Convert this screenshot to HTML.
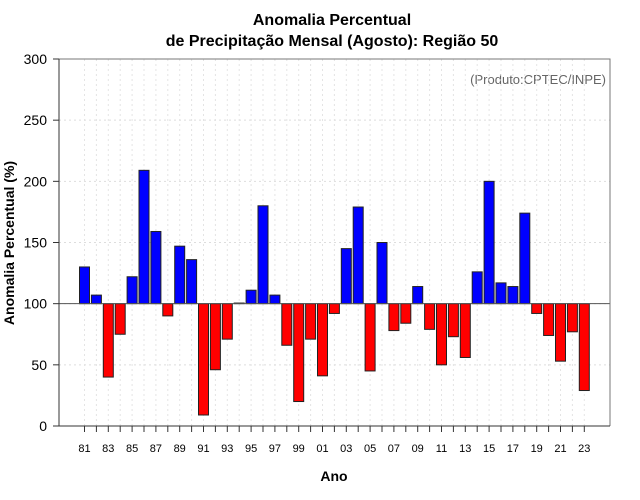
<!DOCTYPE html>
<html><head><meta charset="utf-8"><style>
body{margin:0;background:#fff;}
svg{display:block;font-family:"Liberation Sans",sans-serif;}
</style></head><body>
<svg id="chart" width="640" height="500" xmlns="http://www.w3.org/2000/svg">
<text x="332" y="25" text-anchor="middle" font-size="16" font-weight="bold">Anomalia Percentual</text>
<text x="332" y="46" text-anchor="middle" font-size="16" font-weight="bold">de Precipitação Mensal (Agosto): Região 50</text>
<text x="606" y="84" text-anchor="end" font-size="13" fill="#666">(Produto:CPTEC/INPE)</text>
<text x="334" y="481" text-anchor="middle" font-size="14" font-weight="bold">Ano</text>
<text transform="translate(14,243) rotate(-90)" text-anchor="middle" font-size="14" font-weight="bold">Anomalia Percentual (%)</text>
<g id="grid"></g><g id="bars"></g><g id="axes"></g>
</svg>
<script>
const years = [1981,1982,1983,1984,1985,1986,1987,1988,1989,1990,1991,1992,1993,1994,1995,1996,1997,1998,1999,2000,2001,2002,2003,2004,2005,2006,2007,2008,2009,2010,2011,2012,2013,2014,2015,2016,2017,2018,2019,2020,2021,2022,2023];
const values = [130,107,40,75,122,209,159,90,147,136,9,46,71,100.5,111,180,107,66,20,71,41,92,145,179,45,150,78,84,114,79,50,73,56,126,200,117,114,174,92,74,53,77,29];
const yTicks = [0,50,100,150,200,250,300];
const baseline = 100;
const NS = "http://www.w3.org/2000/svg";
const L=59,R=610,T=59,B=426;
const x = y => 84.5 + (y-1981)*11.9;
const yS = v => B - v*(B-T)/300;
function mk(tag, attrs, parent){const e=document.createElementNS(NS,tag);for(const k in attrs)e.setAttribute(k,attrs[k]);parent.appendChild(e);return e;}
const grid=document.getElementById('grid'),bars=document.getElementById('bars'),axes=document.getElementById('axes');
yTicks.forEach(t=>{
  const g=mk('line',{x1:L,x2:R,y1:yS(t),y2:yS(t),stroke:'#ddd','stroke-dasharray':'2,3'},grid);
  
  
  const tk=mk('line',{x1:L-6,x2:L,y1:yS(t),y2:yS(t),stroke:'#333'},axes);
  
  
  const tx=mk('text',{x:L-12,y:yS(t)+5,'text-anchor':'end','font-size':'14'},axes);
  tx.textContent=t;
  
  
});
years.forEach((yr,i)=>{
  const g=mk('line',{x1:x(yr),x2:x(yr),y1:T,y2:B,stroke:'#e4e4e4','stroke-dasharray':'2,3'},grid);
  
  
  const tk=mk('line',{x1:x(yr),x2:x(yr),y1:B,y2:B+6,stroke:'#333'},axes);
  
  
  if(i%2===0){
    const tx=mk('text',{x:x(yr),y:452,'text-anchor':'middle','font-size':'11'},axes);
    tx.textContent=String(yr%100).padStart(2,'0');
    
    
  }
  const v=values[i];
  const y0=yS(Math.max(v,baseline)),y1=yS(Math.min(v,baseline));
  const b=mk('rect',{x:x(yr)-5,y:y0,width:10,height:Math.max(y1-y0,0.5),fill:v>=baseline?'#0000ff':'#ff0000',stroke:'#222','stroke-width':1},bars);
  
  
});
const bl=mk('line',{x1:L,x2:R,y1:yS(baseline),y2:yS(baseline),stroke:'#555'},axes);


const fr=mk('path',{d:`M${L},${T}H${R}V${B}`,fill:'none',stroke:'#777'},axes);


const ax=mk('path',{d:`M${L},${T}V${B}H${R}`,fill:'none',stroke:'#333'},axes);


</script>
</body></html>
